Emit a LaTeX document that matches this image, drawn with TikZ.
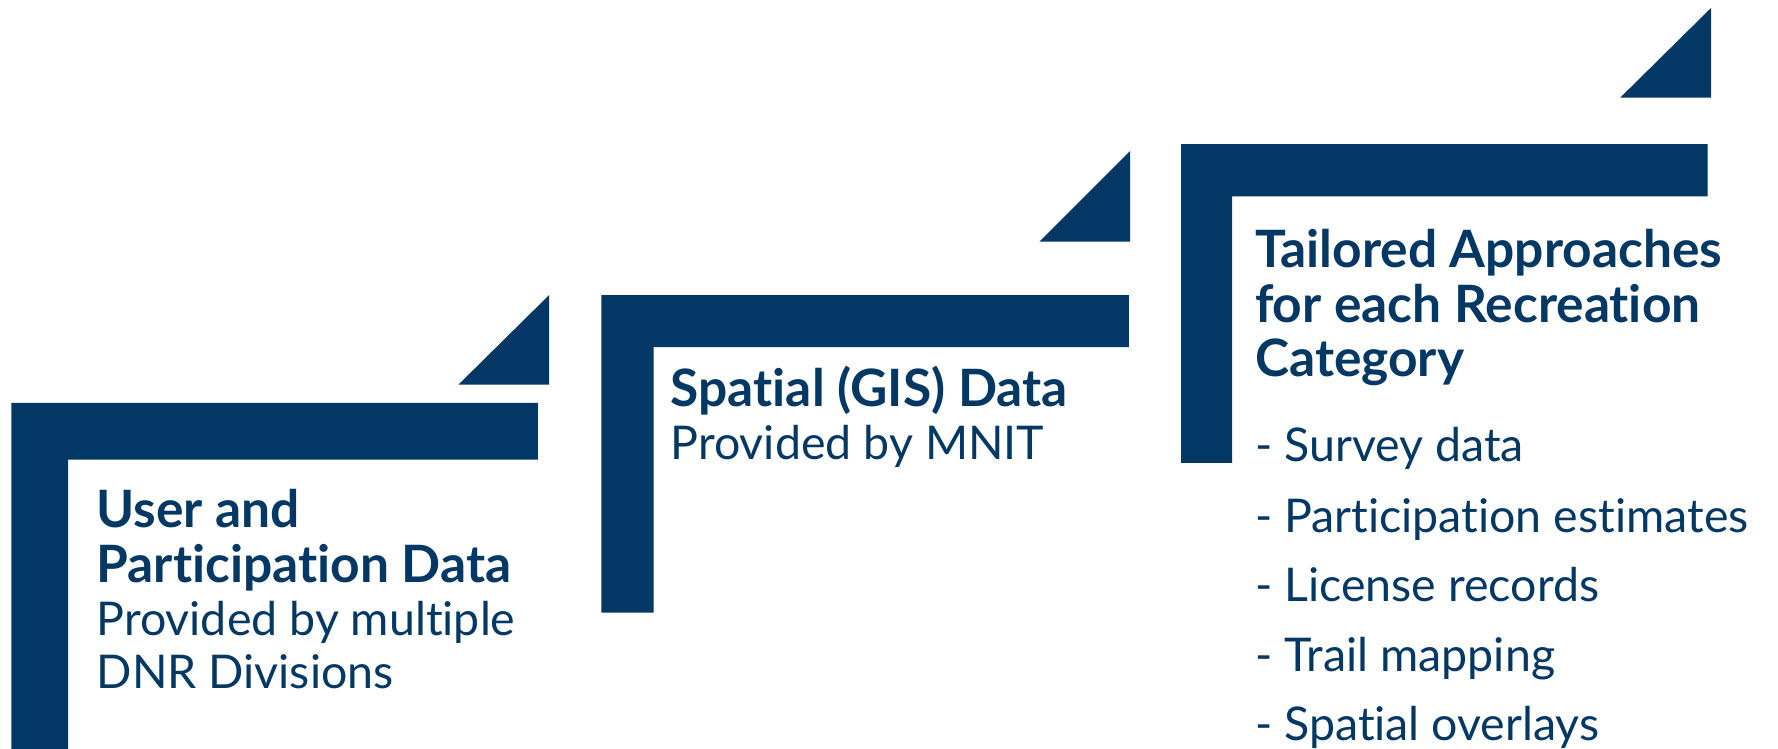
\documentclass[tikz,border=0pt]{standalone}
\usepackage{fontspec}
\setmainfont{Lato}[Ligatures={NoCommon,NoRare,NoDiscretionary}]
\definecolor{navy}{RGB}{3,56,101}
\tikzset{
  bar/.style={fill=navy, draw=none},
  head/.style={anchor=base west, inner sep=0pt, text=navy, font=\fontsize{51.5}{60}\selectfont\bfseries},
  body/.style={anchor=base west, inner sep=0pt, text=navy, font=\fontsize{46.5}{55}\selectfont},
}
\begin{document}
\begin{tikzpicture}[x=1.1346pt,y=-1.1346pt]
\useasboundingbox (0,0) rectangle (1567,660.1);
% step 1
\fill[bar] (10,355) -- (474,355) -- (474,405) -- (60,405) -- (60,661) -- (10,661) -- cycle;
\fill[bar] (404,339) -- (484,339) -- (484,260) -- cycle;
% step 2
\fill[bar] (530,260) -- (995,260) -- (995,306) -- (576,306) -- (576,540) -- (530,540) -- cycle;
\fill[bar] (916,213) -- (996,213) -- (996,133) -- cycle;
% step 3
\fill[bar] (1041,127) -- (1505,127) -- (1505,173) -- (1086,173) -- (1086,408) -- (1041,408) -- cycle;
\fill[bar] (1428,86) -- (1508,86) -- (1508,7) -- cycle;
% texts
\node[head] (a1) at (85,465) {User and};
\node[head] (a2) at (85,513) {Participation Data};
\node[body] (a3) at (85,560) {Provided by multiple};
\node[body] (a4) at (85,607) {DNR Divisions};
\node[head] (b1) at (591,358) {Spatial (GIS) Data};
\node[body] (b2) at (591,405) {Provided by MNIT};
\node[head] (c1) at (1106,236) {Tailored Approaches};
\node[head] (c2) at (1106,284) {for each Recreation};
\node[head] (c3) at (1106,332) {Category};
\node[body] (d1) at (1106,407) {- Survey data};
\node[body] (d2) at (1106,469) {- Participation estimates};
\node[body] (d3) at (1106,530) {- License records};
\node[body] (d4) at (1106,592) {- Trail mapping};
\node[body] (d5) at (1106,653) {- Spatial overlays};
\end{tikzpicture}
\end{document}
